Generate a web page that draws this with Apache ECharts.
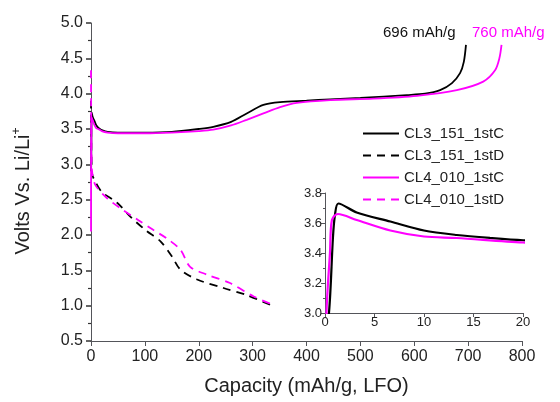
<!DOCTYPE html>
<html><head><meta charset="utf-8">
<script src="https://cdn.jsdelivr.net/npm/echarts@6/dist/echarts.min.js"></script>
<style>html,body{margin:0;padding:0;background:#fff}#c{width:560px;height:402px}</style>
</head><body><div id="c"></div>
<script>
// CL3_151 charge (1stC)
const capC3 = [0,0.4,0.8,1.0,1.35,3.2,6.6,10,13.3,16.7,20,31,50,100,150,200,227,260,289,320,351,400,444,500,586,620,648,670,685,692,696];
const voltC3 = [2.9,3.0,3.5,3.65,3.73,3.67,3.61,3.55,3.52,3.50,3.485,3.46,3.45,3.45,3.46,3.5,3.53,3.6,3.72,3.84,3.88,3.9,3.92,3.94,3.98,4.0,4.05,4.15,4.29,4.45,4.69];
// CL3_151 discharge (1stD)
const capD3 = [0,0.5,1,2,5,20,48,73,101,129,150,166,197,246,289,336];
const voltD3 = [3.9,3.3,3.0,2.87,2.80,2.61,2.46,2.26,2.07,1.91,1.70,1.51,1.37,1.25,1.15,1.0];
// CL4_010 charge (1stC)
const capC4 = [0,0.15,0.5,0.7,1.3,3.2,6.6,10,13.3,20,31,50,100,150,200,227,260,289,320,351,382,444,524,605,679,728,750,758,762];
const voltC4 = [2.05,3.0,3.4,3.62,3.66,3.62,3.55,3.51,3.50,3.47,3.45,3.44,3.44,3.45,3.47,3.49,3.55,3.63,3.72,3.81,3.87,3.91,3.93,3.97,4.05,4.17,4.33,4.5,4.69];
// CL4_010 discharge (1stD)
const capD4 = [0,0.5,1,2,8,30,60,88,116,141,166,184,215,258,302,342];
const voltD4 = [4.33,3.5,3.1,2.9,2.71,2.52,2.35,2.21,2.07,1.95,1.79,1.55,1.44,1.32,1.13,1.0];

const seriesNames = ['CL3_151_1stC','CL3_151_1stD','CL4_010_1stC','CL4_010_1stD'];
const capacityLabels = ['696 mAh/g','760 mAh/g'];
const BLACK = '#000000', MAG = '#ff00ff';
const zip = (a,b)=>a.map((v,i)=>[v,b[i]]);
const FONT = 'Liberation Sans, Arial, sans-serif';

const chart = echarts.init(document.getElementById('c'), null, {renderer:'canvas'});
const fmt1 = v=>v.toFixed(1);

const option = {
  animation:false,
  backgroundColor:'#fff',
  grid:[
    {left:91,right:38,top:23,bottom:61,outerBoundsMode:'none'},
    {left:325,right:37,top:193,bottom:89,outerBoundsMode:'none'}
  ],
  xAxis:[
    {type:'value',gridIndex:0,min:0,max:800,interval:100,
     name:'Capacity (mAh/g, LFO)',nameLocation:'middle',nameGap:35,
     nameTextStyle:{fontSize:20,color:'#222',fontFamily:FONT},
     axisTick:{show:true,length:5},
     splitLine:{show:false},
     axisLabel:{color:'#222',fontSize:16,fontFamily:FONT}},
    {type:'value',gridIndex:1,min:0,max:20,interval:5,
     axisTick:{show:true,length:4},
     splitLine:{show:false},
     axisLabel:{color:'#222',fontSize:13,fontFamily:FONT,margin:3}}
  ],
  yAxis:[
    {type:'value',gridIndex:0,min:0.5,max:5.0,interval:0.5,
     name:'{n|Volts Vs. Li/Li}{s|+}',nameLocation:'middle',nameGap:56,
     nameTextStyle:{color:'#222',fontFamily:FONT,padding:[0,18,0,0],rich:{n:{fontSize:20,color:'#222',fontFamily:FONT},s:{fontSize:12,color:'#222',fontFamily:FONT,verticalAlign:'top',padding:[0,0,12,0]}}},
     axisLine:{show:true,onZero:false},
     axisTick:{show:true,length:5,lineStyle:{color:'#333',width:1.5}},
     minorTick:{show:true,splitNumber:2,length:3,lineStyle:{color:'#333',width:1.2}},
     splitLine:{show:false},
     axisLabel:{color:'#222',fontSize:16,fontFamily:FONT,formatter:fmt1}},
    {type:'value',gridIndex:1,min:3.0,max:3.8,interval:0.2,
     axisLine:{show:true,onZero:false},
     axisTick:{show:true,length:4},
     minorTick:{show:true,splitNumber:2,length:2},
     splitLine:{show:false},
     axisLabel:{color:'#222',fontSize:13,fontFamily:FONT,margin:3,formatter:fmt1}}
  ],
  legend:{
    orient:'vertical',left:357,top:121,itemWidth:36,itemHeight:14,itemGap:7,
    data:seriesNames,
    itemStyle:{opacity:0},
    textStyle:{fontSize:15,color:'#222',fontFamily:FONT}
  },
  series:[
    {name:seriesNames[0],type:'line',xAxisIndex:0,yAxisIndex:0,data:zip(capC3,voltC3),symbol:'none',smooth:0.3,lineStyle:{color:BLACK,width:1.8},itemStyle:{color:BLACK}},
    {name:seriesNames[1],type:'line',xAxisIndex:0,yAxisIndex:0,data:zip(capD3,voltD3),symbol:'none',smooth:0.3,lineStyle:{color:BLACK,width:1.8,type:[8,6]},itemStyle:{color:BLACK}},
    {name:seriesNames[2],type:'line',xAxisIndex:0,yAxisIndex:0,data:zip(capC4,voltC4),symbol:'none',smooth:0.3,lineStyle:{color:MAG,width:1.8},itemStyle:{color:MAG}},
    {name:seriesNames[3],type:'line',xAxisIndex:0,yAxisIndex:0,data:zip(capD4,voltD4),symbol:'none',smooth:0.3,lineStyle:{color:MAG,width:1.8,type:[8,6]},itemStyle:{color:MAG}},
    {name:'inset3',type:'line',xAxisIndex:1,yAxisIndex:1,data:zip(capC3,voltC3),symbol:'none',smooth:0.3,clip:true,lineStyle:{color:BLACK,width:2.2}},
    {name:'inset4',type:'line',xAxisIndex:1,yAxisIndex:1,data:zip(capC4,voltC4),symbol:'none',smooth:0.3,clip:true,lineStyle:{color:MAG,width:2.2}}
  ],
  graphic:[
    {type:'text',left:383,top:25,style:{text:capacityLabels[0],fill:'#111',fontSize:15,fontFamily:FONT}},
    {type:'text',left:472,top:25,style:{text:capacityLabels[1],fill:MAG,fontSize:15,fontFamily:FONT}}
  ]
};
chart.setOption(option);
</script></body></html>
